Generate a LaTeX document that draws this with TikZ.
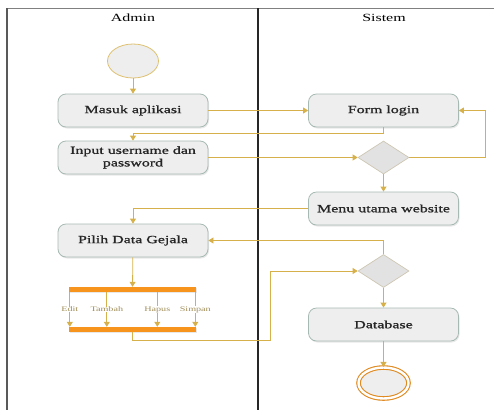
\documentclass[tikz,border=0pt]{standalone}
\usepackage{fontspec}
\setmainfont[FakeStretch=1.45]{Liberation Serif}
\newfontfamily\boxfont[FakeStretch=1.45,FakeBold=1.2]{Liberation Serif}
\usepackage{xcolor}
\usepackage{tikz}
\usetikzlibrary{arrows.meta,positioning,calc,shapes.geometric,shadows}
\definecolor{flowgold}{RGB}{214,176,74}
\definecolor{boxfill}{RGB}{238,238,238}
\definecolor{boxline}{RGB}{167,185,179}
\definecolor{decline}{RGB}{205,198,178}
\definecolor{barorange}{RGB}{247,148,30}
\definecolor{endorange}{RGB}{224,138,32}
\definecolor{lbltan}{RGB}{160,142,88}

\begin{document}
\begin{tikzpicture}[
  x=1pt, y=-1pt,
  font=\fontsize{11}{12.5}\selectfont,
  actbox/.style={rectangle, draw=boxline, fill=boxfill, rounded corners=8pt, line width=0.8pt,
    minimum width=150pt, minimum height=33pt, align=center, inner sep=2pt,
    font=\boxfont\fontsize{11}{12.5}\selectfont, text=black!85,
    drop shadow={opacity=0.18, shadow xshift=1pt, shadow yshift=-1.5pt}},
  decbox/.style={diamond, draw=decline, fill=boxfill!95!black, line width=0.7pt,
    minimum width=51pt, minimum height=33pt, inner sep=0pt},
  startdot/.style={ellipse, draw=flowgold!80, fill=boxfill, line width=0.8pt,
    minimum width=51pt, minimum height=34pt, inner sep=0pt},
  enddot/.style={ellipse, draw=endorange, double=white, double distance=2.4pt, line width=1.1pt,
    fill=boxfill, minimum width=50pt, minimum height=31pt, inner sep=0pt,
    drop shadow={opacity=0.18, shadow xshift=0pt, shadow yshift=-2pt}},
  forkbar/.style={rectangle, fill=barorange, minimum width=127pt, minimum height=5pt, inner sep=0pt,
    drop shadow={opacity=0.18, shadow xshift=1pt, shadow yshift=-1pt}},
  lane/.style={font=\fontsize{11}{12}\selectfont},
  flow/.style={-{Triangle[width=6pt,length=5pt]}, draw=flowgold, line width=0.8pt},
  opt/.style={font=\fontsize{7}{8}\selectfont, text=lbltan, fill=white, inner sep=0.5pt},
]
  \useasboundingbox (0,0) rectangle (494,410);

  % swimlanes
  \draw[gray, line width=1pt] (7,8) -- (494,8);
  \draw[black!65, line width=1.6pt] (7,8) -- (7,410);
  \draw[black!85, line width=1.2pt] (258,8) -- (258,410);
  \node[lane] (admin) at (133,18) {Admin};
  \node[lane] (sistem) at (384,18) {Sistem};

  \node[startdot] (start) at (133,61) {};
  \node[actbox] (masuk) at (133,110.5) {Masuk aplikasi};
  \node[actbox] (form) at (383.5,110.5) {Form login};
  \node[actbox] (input) at (133,157.5) {Input username dan\\password};
  \node[decbox] (cek) at (383.5,157.5) {};
  \node[actbox] (menu) at (383.5,208.5) {Menu utama website};
  \node[actbox] (pilih) at (133,240.5) {Pilih Data Gejala};
  \node[decbox] (simpan) at (383.5,271) {};
  \node[forkbar] (forkA) at (132.5,289.5) {};
  \node[forkbar] (forkB) at (132.5,329.5) {};
  \node[actbox] (db) at (383.5,324.5) {Database};
  \node[enddot] (finish) at (383.5,383) {};

  \draw[flow] (start) -- (masuk);
  \draw[flow] (masuk) -- (form);
  \draw[flow] (form.south) -- ++(0,6) -| (input.north);
  \draw[flow] (input) -- (cek);
  \draw[flow] (cek.east) -- ++(76,0) |- (form.east);
  \draw[flow] (cek) -- (menu);
  \draw[flow] (menu.west) -| (pilih.north);
  \draw[flow] (simpan.north) |- (pilih.east);
  \draw[flow] (pilih) -- (forkA);
  \foreach \dx/\txt in {1/Edit, 38/Tambah, 88.5/Hapus, 126.5/Simpan}
    \draw[flow] ([xshift=\dx pt]forkA.south west) -- node[opt] {\txt} ([xshift=\dx pt]forkB.north west);
  \draw[flow] (forkB.south) -- ++(0,8) -- ++(138,0) |- (simpan.west);
  \draw[flow] (simpan) -- (db);
  \draw[flow] (db) -- (finish);
\end{tikzpicture}
\end{document}
